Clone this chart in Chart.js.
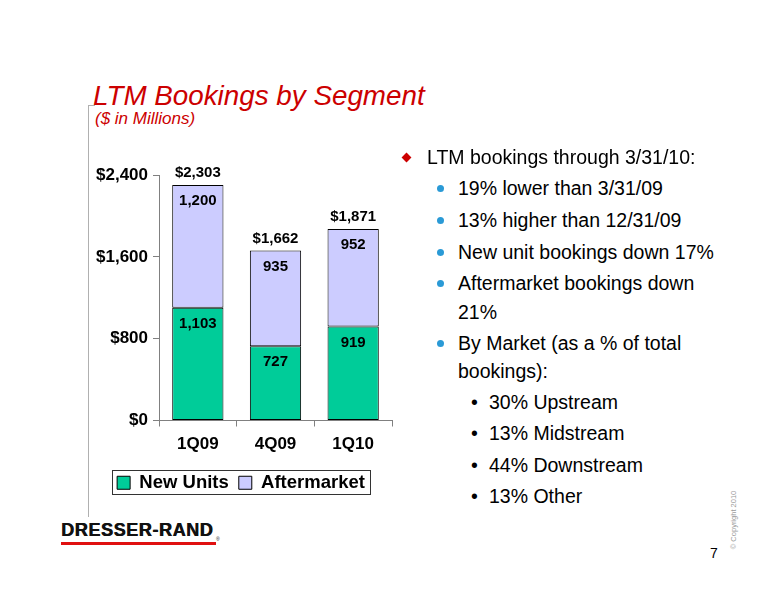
<!DOCTYPE html>
<html>
<head>
<meta charset="utf-8">
<script src="https://cdn.jsdelivr.net/npm/chart.js@4/dist/chart.umd.min.js"></script>
<style>
  body { margin: 0; background: #fff; font-family: "Liberation Sans", Arial, sans-serif; }
  #page { position: relative; width: 776px; height: 600px; overflow: hidden; }
  .abs { position: absolute; white-space: nowrap; }
  #title { left: 93px; top: 80px; font-size: 27.8px; font-style: italic; color: #cc0000; line-height: 32px; }
  #subtitle { left: 95px; top: 108px; font-size: 17px; font-style: italic; color: #cc0000; line-height: 22px; }
  #vline { left: 88px; top: 105px; width: 1px; height: 412px; background: #b0b0b0; }
  #vstub { left: 88px; top: 105px; width: 7px; height: 1px; background: #b0b0b0; }
  #wrap { position: absolute; left: 90px; top: 150px; width: 312px; height: 360px; }
  .txt { font-size: 19.5px; color: #000; line-height: 28px; height: 28px; }
  .diamond { width: 7px; height: 7px; background: #cc0000; transform: rotate(45deg); }
  .dot { width: 7px; height: 7px; border-radius: 50%; background: #2a9ad6; }
  #logo { left: 61px; top: 520px; font-size: 18px; font-weight: bold; letter-spacing: 0.6px; color: #111; line-height: 20px; text-shadow: 0.6px 0 #111; }
  #logobar { left: 61px; top: 542px; width: 155px; height: 3px; background: #e01010; }
  #reg { left: 216px; top: 536px; font-size: 5px; color: #111; }
  #pnum { left: 710px; top: 545px; font-size: 14px; color: #000; }
  #copy { left: 733px; top: 520px; font-size: 7.5px; color: #999; transform: translate(-50%, -50%) rotate(-90deg); }
</style>
</head>
<body>
<div id="page">
  <div class="abs" id="title">LTM Bookings by Segment</div>
  <div class="abs" id="subtitle">($ in Millions)</div>
  <div class="abs" id="vline"></div>
  <div class="abs" id="vstub"></div>
  <div id="wrap"><canvas id="chart" width="312" height="360"></canvas></div>
  <div id="notes"></div>
  <div class="abs" id="logo">DRESSER-RAND</div>
  <div class="abs" id="logobar"></div>
  <div class="abs" id="reg">®</div>
  <div class="abs" id="pnum">7</div>
  <div class="abs" id="copy">© Copyright 2010</div>
</div>
<script>
// chart data
var quarters = ['1Q09', '4Q09', '1Q10'];
var newUnits = [1103, 727, 919];
var aftermarket = [1200, 935, 952];
var yTicks = [0, 800, 1600, 2400];

// bullet text on the right: [kind, text, centre y]
var notes = [
  ['diamond', 'LTM bookings through 3/31/10:', 157],
  ['dot', '19% lower than 3/31/09', 188],
  ['dot', '13% higher than 12/31/09', 220],
  ['dot', 'New unit bookings down 17%', 252],
  ['dot', 'Aftermarket bookings down', 283],
  ['', '21%', 312],
  ['dot', 'By Market (as a % of total', 343],
  ['', 'bookings):', 371],
  ['small', '30% Upstream', 402],
  ['small', '13% Midstream', 433],
  ['small', '44% Downstream', 465],
  ['small', '13% Other', 496]
];

var notesDiv = document.getElementById('notes');
notes.forEach(function (n) {
  var x = 458, html = '';
  if (n[0] == 'diamond') {
    x = 427;
    html += '<div class="abs diamond" style="left:403px;top:' + (n[2] - 3.5) + 'px"></div>';
  } else if (n[0] == 'dot') {
    html += '<div class="abs dot" style="left:437px;top:' + (n[2] - 3.5) + 'px"></div>';
  } else if (n[0] == 'small') {
    x = 489;
    html += '<div class="abs txt" style="left:471px;top:' + (n[2] - 14) + 'px">•</div>';
  }
  html += '<div class="abs txt" style="left:' + x + 'px;top:' + (n[2] - 14) + 'px">' + n[1] + '</div>';
  notesDiv.insertAdjacentHTML('beforeend', html);
});

function money(v) { return '$' + v.toLocaleString('en-US'); }

// value labels inside segments and totals above the bars
var labelPlugin = {
  id: 'barLabels',
  afterDatasetsDraw: function (chart) {
    var ctx = chart.ctx;
    ctx.save();
    ctx.font = 'bold 15px "Liberation Sans", Arial, sans-serif';
    ctx.fillStyle = '#000';
    ctx.textAlign = 'center';
    ctx.textBaseline = 'middle';
    chart.data.datasets.forEach(function (ds, i) {
      chart.getDatasetMeta(i).data.forEach(function (bar, j) {
        ctx.fillText(ds.data[j].toLocaleString('en-US'), bar.x, bar.y + 16);
      });
    });
    var top = chart.getDatasetMeta(1).data;
    top.forEach(function (bar, j) {
      ctx.fillText(money(newUnits[j] + aftermarket[j]), bar.x, bar.y - 12);
    });
    ctx.restore();
  }
};

// border round the legend items
var legendBox = {
  id: 'legendBox',
  afterDraw: function (chart) {
    var hb = chart.legend.legendHitBoxes;
    if (!hb || !hb.length) return;
    var first = hb[0], last = hb[hb.length - 1];
    var ctx = chart.ctx;
    ctx.save();
    ctx.strokeStyle = '#333';
    ctx.lineWidth = 1;
    var l = Math.round(first.left - 5) + 0.5;
    var r = Math.round(last.left + last.width + 5) + 0.5;
    var t = Math.round(first.top - 4) + 0.5;
    var b = Math.round(first.top + first.height + 2) + 0.5;
    ctx.strokeRect(l, t, r - l, b - t);
    ctx.restore();
  }
};

var ctx = document.getElementById('chart').getContext('2d');
var bookingsChart = new Chart(ctx, {
  type: 'bar',
  data: {
    labels: quarters,
    datasets: [{
      label: 'New Units',
      data: newUnits,
      backgroundColor: '#00cc99',
      borderColor: '#000',
      borderWidth: 1,
      borderSkipped: false
    }, {
      label: 'Aftermarket',
      data: aftermarket,
      backgroundColor: '#ccccff',
      borderColor: '#000',
      borderWidth: 1,
      borderSkipped: false
    }]
  },
  options: {
    responsive: false,
    animation: false,
    datasets: { bar: { barPercentage: 0.66, categoryPercentage: 1 } },
    layout: { padding: { top: 25, right: 10, bottom: 8, left: 0 } },
    scales: {
      x: {
        stacked: true,
        grid: { drawOnChartArea: false, offset: true, tickLength: 6, color: '#808080' },
        border: { color: '#808080' },
        ticks: { color: '#000', padding: 8, font: { family: '"Liberation Sans", Arial, sans-serif', size: 17, weight: 'bold' } },
        afterFit: function (s) { s.height = 43; }
      },
      y: {
        stacked: true,
        min: 0,
        max: 2400,
        afterBuildTicks: function (s) { s.ticks = yTicks.map(function (v) { return { value: v }; }); },
        grid: { drawOnChartArea: false, tickLength: 6, color: '#808080' },
        border: { color: '#808080' },
        ticks: {
          color: '#000',
          padding: 5,
          font: { family: '"Liberation Sans", Arial, sans-serif', size: 17, weight: 'bold' },
          callback: function (v) { return money(v); }
        },
        afterFit: function (s) { s.width = 69; }
      }
    },
    plugins: {
      tooltip: { enabled: false },
      legend: {
        position: 'bottom',
        labels: {
          boxWidth: 13,
          boxHeight: 13,
          padding: 10,
          color: '#000',
          font: { family: '"Liberation Sans", Arial, sans-serif', size: 18.5, weight: 'bold' }
        }
      }
    }
  },
  plugins: [labelPlugin, legendBox]
});
</script>
</body>
</html>
